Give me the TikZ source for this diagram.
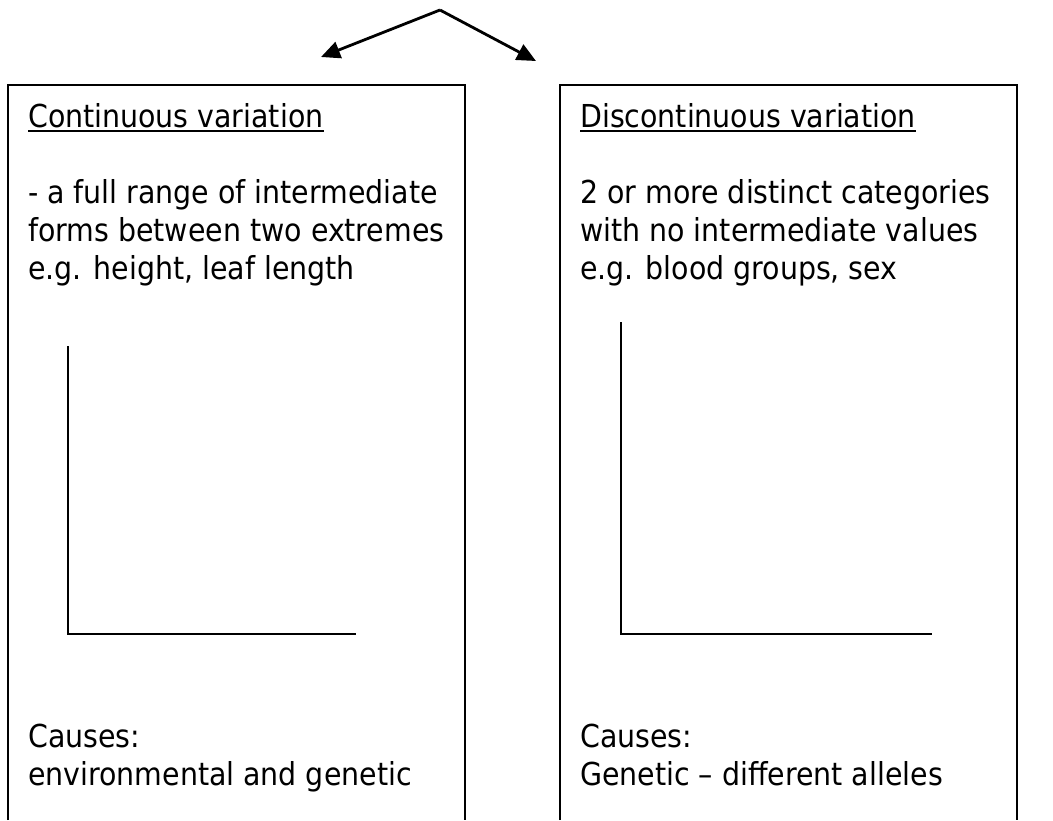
\documentclass[tikz,border=0pt]{standalone}
\usepackage{fontspec}
\setmainfont{DejaVu Sans Condensed}
\usetikzlibrary{arrows.meta}
\begin{document}
\begin{tikzpicture}[x=1pt,y=-1pt,
  boxline/.style={line width=1.5pt},
  axisline/.style={line width=2pt},
  arr/.style={line width=2.8pt,-{Triangle[length=19pt,width=17pt]}},
  txt/.style={anchor=base west,inner sep=0pt,font=\fontsize{31.6pt}{38pt}\selectfont}]
\useasboundingbox (0,0) rectangle (1053,820);
% arrows
\coordinate (apex) at (440,10);
\coordinate (tipL) at (321,57);
\coordinate (tipR) at (536,61);
\draw[arr] (apex) -- (tipL);
\draw[arr] (apex) -- (tipR);
% boxes (open at the bottom)
\draw[boxline] (8,820) -- (8,85) -- (465,85) -- (465,820);
\draw[boxline] (560,820) -- (560,85) -- (1017,85) -- (1017,820);
% left text
\node[txt] (lt) at (28,127) {Continuous variation};
\draw[line width=2pt] ([yshift=-4pt]lt.base west) -- ([yshift=-4pt]lt.base east);
\node[txt] (l1) at (28,203) {- a full range of intermediate};
\node[txt] (l2) at (28,241) {forms between two extremes};
\node[txt] (l3) at (28,279) {e.g. height, leaf length};
\node[txt] (lc1) at (28,747) {Causes:};
\node[txt] (lc2) at (28,785) {environmental and genetic};
% right text
\node[txt] (rt) at (580,127) {Discontinuous variation};
\draw[line width=2pt] ([yshift=-4pt]rt.base west) -- ([yshift=-4pt]rt.base east);
\node[txt] (r1) at (580,203) {2 or more distinct categories};
\node[txt] (r2) at (580,241) {with no intermediate values};
\node[txt] (r3) at (580,279) {e.g. blood groups, sex};
\node[txt] (rc1) at (580,747) {Causes:};
\node[txt] (rc2) at (580,785) {Genetic – different alleles};
% axes
\draw[axisline] (68,346) -- (68,634) -- (356,634);
\draw[axisline] (621,322) -- (621,634) -- (932,634);
\end{tikzpicture}
\end{document}
